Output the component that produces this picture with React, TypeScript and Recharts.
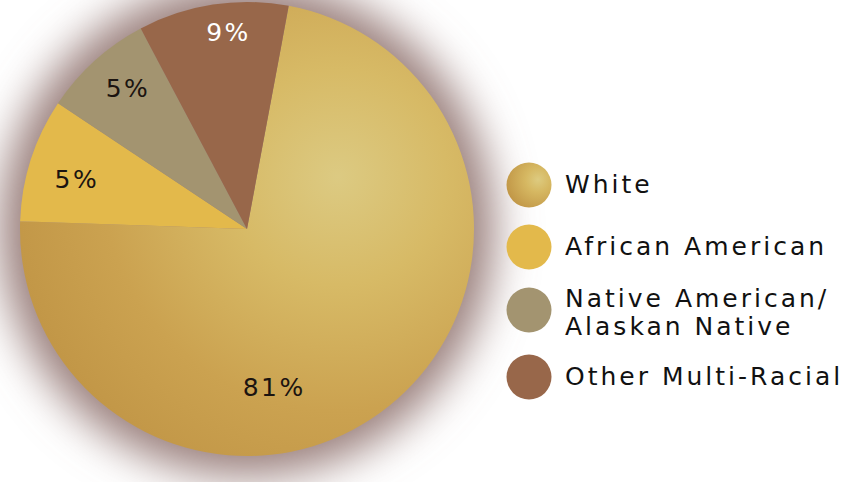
import React from "react";
import { PieChart, Pie, Cell } from "recharts";

// Categories, in legend order
const categories = ["White", "African American", "Native American/Alaskan Native", "Other Multi-Racial"];
// Legend text lines (the long name wraps onto two lines in the reference)
const legendLines = [["White"], ["African American"], ["Native American/", "Alaskan Native"], ["Other Multi-Racial"]];
// Printed percentage labels
const percentLabels = ["81%", "5%", "5%", "9%"];
// Slice shares as drawn in the picture (the drawing is not to scale with the printed labels)
const sliceShares = [72.6, 8.8, 7.9, 10.7];

const colors = ["url(#whiteTexture)", "#e3b94b", "#a39470", "#98674a"];
const labelColors = ["#1b1410", "#1b1410", "#1b1410", "#ffffff"];

const data = categories.map((name, i) => ({ name, value: sliceShares[i] }));
const backdrop = [{ name: "backdrop", value: 1 }];

const FONT = "'DejaVu Sans', sans-serif";
const RAD = Math.PI / 180;

// label placement tweaks (radius fraction, angle offset in degrees)
const labelPlacement = [
  { rf: 0.71, da: -29 },
  { rf: 0.78, da: 1.7 },
  { rf: 0.81, da: -1.8 },
  { rf: 0.87, da: -3.3 },
];

const renderLabel = (props: any) => {
  const { cx, cy, midAngle, outerRadius, index } = props;
  const p = labelPlacement[index];
  const a = (midAngle + p.da) * RAD;
  const r = outerRadius * p.rf;
  const x = cx + r * Math.cos(-a);
  const y = cy + r * Math.sin(-a);
  return (
    <text
      x={x}
      y={y}
      textAnchor="middle"
      dominantBaseline="central"
      fill={labelColors[index]}
      fontFamily={FONT}
      fontSize={25}
      letterSpacing={2.5}
    >
      {percentLabels[index]}
    </text>
  );
};

const rowTops = [0, 62, 125, 192];

const LegendContent = () => (
  <svg width={346} height={250} style={{ display: "block", overflow: "visible" }}>
    <defs>
      <radialGradient id="whiteTextureLegend" cx="0.7" cy="0.38" r="0.78">
        <stop offset="0" stopColor="#ddcb80" />
        <stop offset="0.35" stopColor="#d6b862" />
        <stop offset="1" stopColor="#bf9344" />
      </radialGradient>
    </defs>
    {categories.map((c, i) => {
      const cyRow = 27 + rowTops[i];
      const lines = legendLines[i];
      const firstBaseline = lines.length === 1 ? cyRow + 8 : cyRow - 3;
      return (
        <g key={c}>
          <circle cx={24} cy={cyRow} r={22.5} fill={i === 0 ? "url(#whiteTextureLegend)" : colors[i]} />
          {lines.map((ln, j) => (
            <text
              key={j}
              x={60}
              y={firstBaseline + j * 28}
              fontFamily={FONT}
              fontSize={25}
              letterSpacing={3}
              fill="#111"
            >
              {ln}
            </text>
          ))}
        </g>
      );
    })}
  </svg>
);

export default function App() {
  return (
    <div style={{ position: "absolute", left: 0, top: 0, width: 851, height: 482, background: "#fff" }}>
      <PieChart width={851} height={482} margin={{ top: 0, right: 0, bottom: 0, left: 0 }}>
        <defs>
          <radialGradient id="whiteTexture" cx="0.7" cy="0.38" r="0.8">
            <stop offset="0" stopColor="#dcca82" />
            <stop offset="0.3" stopColor="#d7ba66" />
            <stop offset="0.65" stopColor="#cba250" />
            <stop offset="1" stopColor="#bf9344" />
          </radialGradient>
          <filter id="glow" x="-40%" y="-40%" width="180%" height="180%">
            <feGaussianBlur stdDeviation="22" />
          </filter>
        </defs>
        <Pie
          data={backdrop}
          dataKey="value"
          cx={247}
          cy={229}
          outerRadius={247}
          startAngle={0}
          endAngle={360}
          stroke="none"
          fill="#9a7f7b"
          filter="url(#glow)"
          isAnimationActive={false}
          legendType="none"
        />
        <Pie
          data={data}
          dataKey="value"
          nameKey="name"
          cx={247}
          cy={229}
          outerRadius={227}
          startAngle={79.4}
          endAngle={-280.6}
          stroke="none"
          label={renderLabel}
          labelLine={false}
          isAnimationActive={false}
        >
          {data.map((d, i) => (
            <Cell key={d.name} fill={colors[i]} />
          ))}
        </Pie>
      </PieChart>
      <div style={{ position: "absolute", left: 505, top: 158 }}>
        <LegendContent />
      </div>
    </div>
  );
}
